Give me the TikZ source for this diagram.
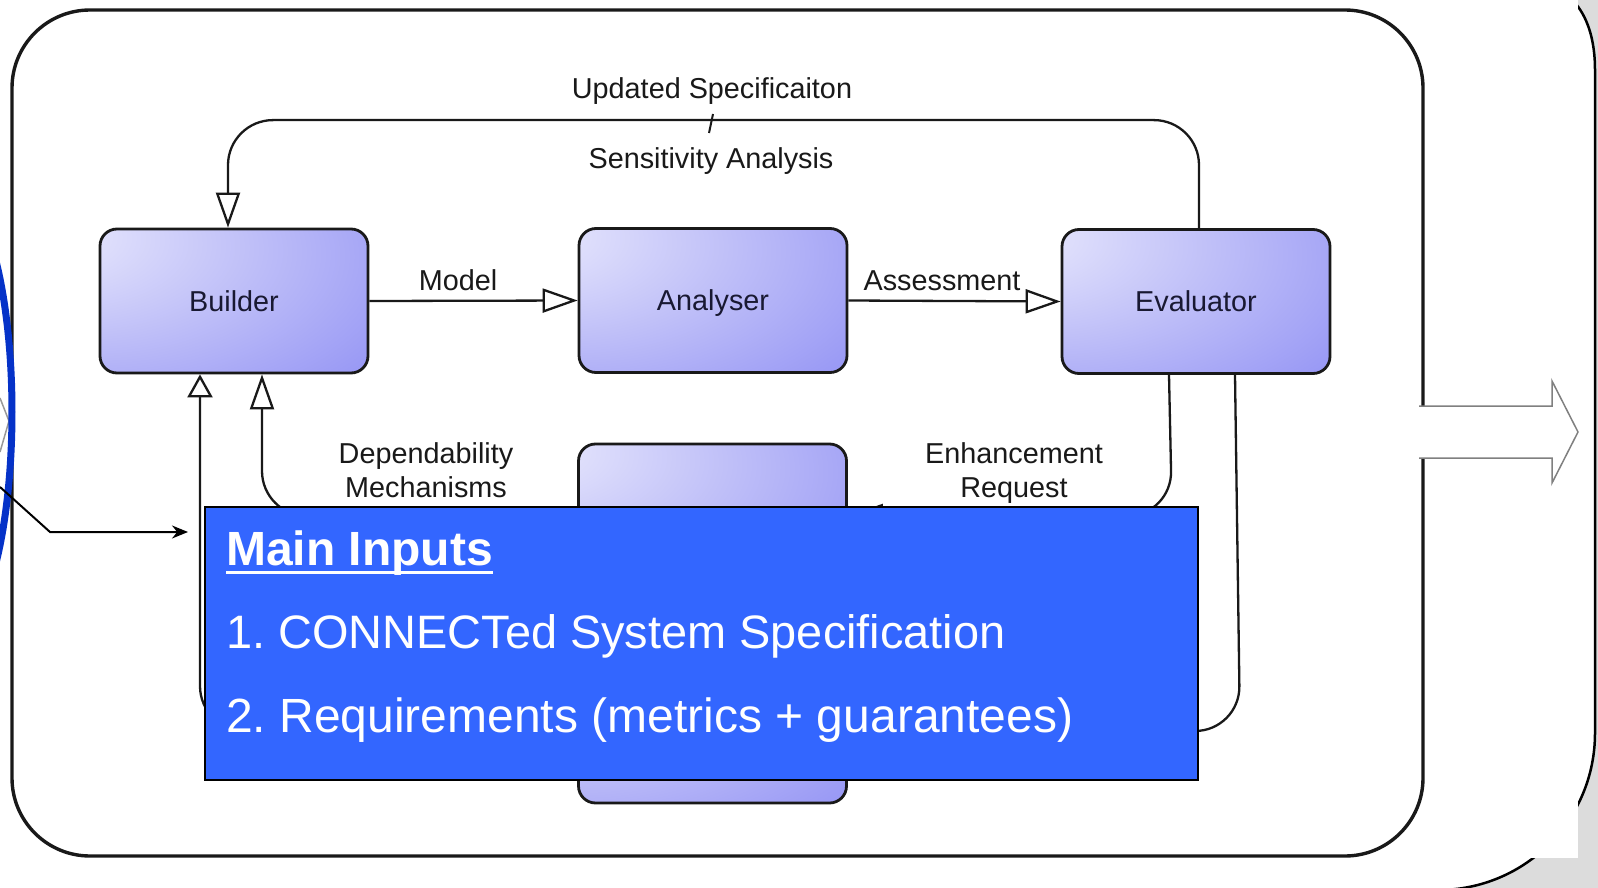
\documentclass[tikz,border=0pt]{standalone}
\usepackage{fontspec}
\setmainfont{Liberation Sans}
\usetikzlibrary{arrows.meta,calc}
\definecolor{gA}{RGB}{238,238,253}
\definecolor{gB}{RGB}{190,190,248}
\definecolor{gC}{RGB}{122,122,242}
\pgfdeclareradialshading{boxgrad}{\pgfpoint{-38bp}{25bp}}{color(0bp)=(gA); color(32bp)=(gB); color(78bp)=(gC); color(120bp)=(gC)}
\definecolor{bgGray}{RGB}{220,220,220}
\definecolor{inBlue}{RGB}{51,102,255}
\definecolor{ringBlue}{RGB}{5,50,200}
\definecolor{boxText}{RGB}{25,25,50}
\definecolor{lblText}{RGB}{25,25,25}
\frenchspacing
\begin{document}
\begin{tikzpicture}[x=1pt,y=-1pt,
  procbox/.style={shade, shading=boxgrad, draw=black!90, line width=2.8pt, rounded corners=17pt,
    minimum width=268pt, minimum height=144pt, inner sep=0pt, text height=20.6pt, text depth=0pt,
    font=\fontsize{28.8pt}{34pt}\selectfont, text=boxText},
  conn/.style={draw=black!90, line width=2.3pt, rounded corners=45pt, -{Triangle[open,length=35pt,width=24pt]}},
  lbl/.style={inner sep=0pt, anchor=base, font=\fontsize{28.8pt}{34pt}\selectfont, text=lblText},
  bluetext/.style={inner sep=0pt, anchor=base west, text=white, font=\fontsize{47pt}{56pt}\selectfont},
]
\useasboundingbox (0,0) rectangle (1598,888);
\clip (0,0) rectangle (1598,888);
% background and outer callout shape
\fill[bgGray] (0,0) rectangle (1598,888);
\draw[line width=2.5pt, fill=white] (-20,-20) -- (1520,-20) .. controls (1570,-20) and (1595,15) .. (1595,70)
  -- (1595,733) .. controls (1595,820) and (1525,890) .. (1438,890) -- (-20,890) -- cycle;
\fill[white] (0,0) rectangle (1578,858);
% frame
\draw[line width=3.4pt, black!90, rounded corners=78pt] (12,10) rectangle (1423,856);
% gray output arrow
\draw[draw=black!50, fill=white, line width=1.5pt] (1419,406) -- (1552,406) -- (1552,381) -- (1578,432)
  -- (1552,483) -- (1552,458) -- (1419,458);
% boxes
\node[procbox] (builder) at (234,301) {Builder};
\node[procbox] (analyser) at (713,300.5) {Analyser};
\node[procbox] (evaluator) at (1196,301.5) {Evaluator};
\node[procbox] (enh) at (712.5,516) {};
\node[procbox] (box2) at (712.5,731) {};
% connectors
\draw[conn] (builder.east) -- (analyser.west);
\draw[conn] (analyser.east) -- (evaluator.west);
\draw[conn] ($(evaluator.north)+(3,0)$) -- ++(0,-108) -| ($(builder.north)+(-6,0)$);
\draw[line width=2pt, black!90] (713,114) -- (709,133);
\draw[conn] ($(evaluator.south)+(-27,0)$) -- ($(evaluator.south |- enh.east)+(-24,0)$) -- (enh.east);
\draw[conn] ($(evaluator.south)+(39,0)$) -- ($(evaluator.south |- box2.east)+(44,0)$) -- (box2.east);
\draw[conn, -{Triangle[open,length=23pt,width=25pt]}] (box2.west) -| ($(builder.south)+(-34,0)$);
\draw[conn] (enh.west) -| ($(builder.south)+(28,0)$);
% labels
\node[lbl] (modellbl) at (458,290) {Model};
\node[lbl] (assesslbl) at (942,290) {Assessment};
\node[lbl] (updlbl) at (712,99) {Updated Specificaiton};
\node[lbl] (senslbl) at (711,168) {Sensitivity Analysis};
\node[lbl] (dep1) at (426,463) {Dependability};
\node[lbl] (dep2) at (426,497) {Mechanisms};
\node[lbl] (enh1) at (1014,463) {Enhancement};
\node[lbl] (enh2) at (1014,497) {Request};
% main inputs box
\node[draw=black, line width=2pt, fill=inBlue, minimum width=993pt, minimum height=273pt, inner sep=0pt] (inputs) at (701.5,643.5) {};
\node[bluetext, font=\bfseries\fontsize{48pt}{56pt}\selectfont] (mainin) at (226,565) {Main Inputs};
\draw[white, line width=3pt] ([yshift=-7pt]mainin.base west) -- ([yshift=-7pt]mainin.base east);
\node[bluetext, font=\fontsize{46.9pt}{56pt}\selectfont] (in1) at (226,648) {1. CONNECTed System Specification};
\node[bluetext, font=\fontsize{48pt}{56pt}\selectfont] (in2) at (226,732) {2. Requirements (metrics + guarantees)};
% left side
\draw[black!40, line width=1.5pt] (0,398) -- (9,421) -- (0,452);
\draw[ringBlue, line width=7pt] (-48,412) ellipse [x radius=60pt, y radius=222pt];
\coordinate (lstart) at (0,487);
\coordinate (lbend) at (50,532);
\coordinate (ltip) at (188,532);
\draw[line width=2pt, -{Stealth[length=16pt,width=13pt]}] (lstart) -- (lbend) -- (ltip);
\end{tikzpicture}
\end{document}
